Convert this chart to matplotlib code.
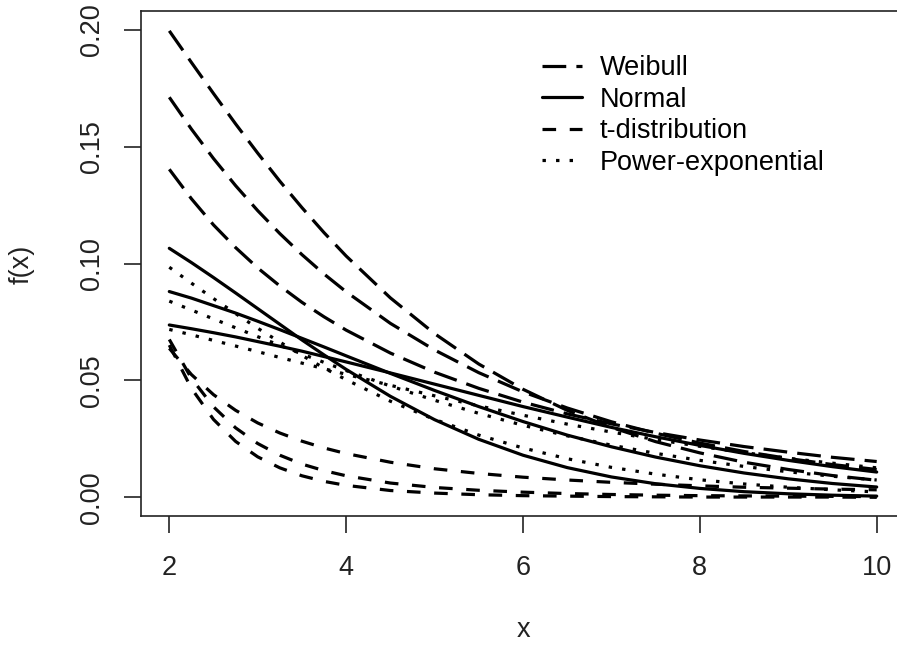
import matplotlib
matplotlib.use('Agg')
import matplotlib.pyplot as plt

# x grid the curves were read at
x_vals = [2, 2.25, 2.5, 2.75, 3, 3.25, 3.5, 3.75, 4, 4.5, 5, 5.5, 6, 6.5, 7, 7.5, 8, 8.5, 9, 9.5, 10]

# Weibull curves (long dash)
weibull_a = [0.1995, 0.1860, 0.1727, 0.1597, 0.1472, 0.1352, 0.1239, 0.1132, 0.1032, 0.0853, 0.0700,
             0.0570, 0.0462, 0.0372, 0.0299, 0.0238, 0.0190, 0.0150, 0.0119, 0.0093, 0.0073]
weibull_b = [0.1711, 0.1575, 0.1449, 0.1333, 0.1226, 0.1128, 0.1038, 0.0955, 0.0879, 0.0744, 0.0630,
             0.0533, 0.0451, 0.0382, 0.0323, 0.0274, 0.0232, 0.0196, 0.0166, 0.0140, 0.0119]
weibull_c = [0.1403, 0.1277, 0.1165, 0.1068, 0.0981, 0.0904, 0.0834, 0.0772, 0.0715, 0.0617, 0.0535,
             0.0466, 0.0407, 0.0357, 0.0314, 0.0277, 0.0245, 0.0217, 0.0193, 0.0171, 0.0153]

# Normal curves (solid)
normal_a = [0.1065, 0.1004, 0.0940, 0.0874, 0.0807, 0.0740, 0.0673, 0.0609, 0.0547, 0.0432, 0.0332,
            0.0248, 0.0180, 0.0127, 0.0087, 0.0058, 0.0038, 0.0024, 0.0015, 0.0009, 0.0005]
normal_b = [0.0880, 0.0852, 0.0820, 0.0788, 0.0753, 0.0717, 0.0680, 0.0643, 0.0605, 0.0530, 0.0457,
            0.0388, 0.0324, 0.0266, 0.0216, 0.0172, 0.0135, 0.0104, 0.0079, 0.0059, 0.0044]
normal_c = [0.0737, 0.0721, 0.0704, 0.0686, 0.0666, 0.0646, 0.0625, 0.0602, 0.0579, 0.0532, 0.0484,
            0.0436, 0.0388, 0.0343, 0.0299, 0.0259, 0.0222, 0.0188, 0.0158, 0.0131, 0.0108]

# t-distribution curves (dashed)
t_a = [0.0637, 0.0525, 0.0439, 0.0372, 0.0318, 0.0275, 0.0240, 0.0211, 0.0187, 0.0150, 0.0122,
       0.0102, 0.0086, 0.0074, 0.0064, 0.0056, 0.0049, 0.0043, 0.0039, 0.0035, 0.0032]
t_b = [0.0675, 0.0509, 0.0387, 0.0297, 0.0230, 0.0180, 0.0142, 0.0114, 0.0092, 0.0061, 0.0042,
       0.0030, 0.0022, 0.0016, 0.0012, 0.0009, 0.0007, 0.0006, 0.0005, 0.0004, 0.0003]
t_c = [0.0651, 0.0466, 0.0333, 0.0239, 0.0173, 0.0126, 0.0092, 0.0068, 0.0051, 0.0029, 0.0018,
       0.0011, 0.0007, 0.0005, 0.0003, 0.0002, 0.0001, 0.0001, 0.0001, 0.0001, 0.0000]

# Power-exponential curves (dotted)
pe_a = [0.0984, 0.0916, 0.0850, 0.0786, 0.0723, 0.0664, 0.0607, 0.0553, 0.0503, 0.0411, 0.0333,
        0.0266, 0.0211, 0.0165, 0.0128, 0.0099, 0.0075, 0.0057, 0.0043, 0.0032, 0.0023]
pe_b = [0.0839, 0.0801, 0.0763, 0.0725, 0.0687, 0.0650, 0.0613, 0.0577, 0.0542, 0.0476, 0.0415,
        0.0359, 0.0308, 0.0263, 0.0223, 0.0188, 0.0158, 0.0132, 0.0109, 0.0090, 0.0074]
pe_c = [0.0718, 0.0695, 0.0671, 0.0647, 0.0623, 0.0598, 0.0574, 0.0550, 0.0526, 0.0479, 0.0434,
        0.0391, 0.0351, 0.0313, 0.0279, 0.0247, 0.0218, 0.0191, 0.0167, 0.0146, 0.0126]

families = [
    ('Weibull', [weibull_a, weibull_b, weibull_c], (0, (17.1, 7.3))),
    ('Normal', [normal_a, normal_b, normal_c], '-'),
    ('t-distribution', [t_a, t_b, t_c], (0, (9.8, 9.8))),
    ('Power-exponential', [pe_a, pe_b, pe_c], (0, (2.45, 7.3))),
]

x_ticks = [2, 4, 6, 8, 10]
y_ticks = [0.0, 0.05, 0.10, 0.15, 0.20]
y_tick_labels = ['0.00', '0.05', '0.10', '0.15', '0.20']

plt.rcParams['font.family'] = ['Liberation Sans', 'DejaVu Sans']
plt.rcParams['lines.scale_dashes'] = False

FS = 19.5
LW = 2.3

fig = plt.figure(figsize=(8.97, 6.45), dpi=100)
ax = fig.add_axes([141 / 897, 1 - 516 / 645, 764 / 897, 505 / 645])

handles = []
for name, curves, style in families:
    for i, ys in enumerate(curves):
        line, = ax.plot(x_vals, ys, color='black', lw=LW, linestyle=style,
                        dash_capstyle='butt', solid_capstyle='round',
                        label=name if i == 0 else None)
        if i == 0:
            handles.append(line)

ax.set_xlim(1.68, 10.32)
ax.set_ylim(-0.008, 0.208)
ax.set_xticks(x_ticks)
ax.set_xticklabels([str(v) for v in x_ticks])
ax.set_yticks(y_ticks)
ax.set_yticklabels(y_tick_labels)
ax.tick_params(axis='both', length=12.2, width=1.2, labelsize=FS, colors='#222222')
ax.tick_params(axis='x', pad=16)
ax.tick_params(axis='y', pad=14)
for lab in ax.get_yticklabels():
    lab.set_rotation(90)
    lab.set_va('center')
for sp in ax.spines.values():
    sp.set_linewidth(1.2)
    sp.set_color('#222222')

fig.text(523 / 897, 2 / 645, 'x', ha='center', va='bottom', fontsize=FS, color='#222222')
fig.text(22 / 897, 1 - 264 / 645, 'f(x)', ha='center', va='center', rotation=90,
         fontsize=FS, color='#222222')

ax.legend(handles=handles, loc='upper left', bbox_to_anchor=(0.525, 0.912), frameon=False,
          fontsize=FS, handlelength=1.48, handletextpad=0.66, labelspacing=0.2,
          borderpad=0, borderaxespad=0)

fig.savefig('out.png', dpi=100)
